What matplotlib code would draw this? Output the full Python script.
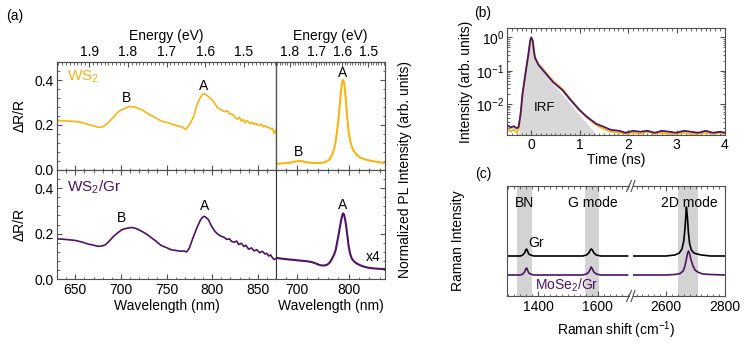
import matplotlib
matplotlib.use('Agg')
import matplotlib.pyplot as plt
from matplotlib.ticker import MultipleLocator, NullFormatter, LogLocator
import numpy as np

plt.rcParams['font.family'] = ['Liberation Sans', 'DejaVu Sans']
plt.rcParams['font.size'] = 10
plt.rcParams['mathtext.fontset'] = 'custom'
plt.rcParams['mathtext.rm'] = 'Liberation Sans'
plt.rcParams['mathtext.default'] = 'regular'
plt.rcParams['axes.edgecolor'] = '#505050'
plt.rcParams['xtick.direction'] = 'in'
plt.rcParams['ytick.direction'] = 'in'
plt.rcParams['xtick.color'] = '#505050'
plt.rcParams['ytick.color'] = '#505050'
plt.rcParams['xtick.labelcolor'] = 'black'
plt.rcParams['ytick.labelcolor'] = 'black'
plt.rcParams['xtick.major.size'] = 3.5
plt.rcParams['ytick.major.size'] = 3.5
plt.rcParams['xtick.minor.size'] = 1.8
plt.rcParams['ytick.minor.size'] = 1.8

ORANGE = '#F7B514'
PURPLE = '#4E1266'

# ---- (a) reflectance contrast, WS2 ----
wl_ws2 = [630, 640, 650, 658, 664, 670, 675, 679, 683, 687, 692, 697, 701, 706, 710, 715, 719, 724, 730,
          736, 741, 746, 752, 757, 763, 767, 771, 774, 777, 780, 783, 786, 789, 791, 793, 795, 797,
          800, 803, 806, 809, 812, 815, 817, 819, 822, 824, 826, 828, 830, 832, 834, 836, 838, 840,
          842, 844, 846, 848, 850, 852, 854, 856, 858, 860, 862, 864, 866, 868, 870]
dr_ws2 = [0.220, 0.218, 0.216, 0.210, 0.203, 0.196, 0.190, 0.190, 0.199, 0.214, 0.236, 0.258, 0.268,
          0.277, 0.282, 0.280, 0.274, 0.265, 0.250, 0.236, 0.225, 0.215, 0.210, 0.202, 0.195, 0.192,
          0.180, 0.195, 0.215, 0.240, 0.285, 0.315, 0.334, 0.340, 0.334, 0.330, 0.322, 0.312, 0.295,
          0.276, 0.270, 0.262, 0.259, 0.263, 0.250, 0.248, 0.240, 0.231, 0.226, 0.235, 0.218, 0.224,
          0.210, 0.220, 0.214, 0.206, 0.212, 0.203, 0.207, 0.201, 0.198, 0.204, 0.192, 0.197, 0.190,
          0.191, 0.182, 0.186, 0.162, 0.176]

# ---- (a) reflectance contrast, WS2/Gr ----
wl_gr = [630, 640, 650, 658, 664, 670, 675, 679, 683, 687, 692, 697, 701, 706, 712, 717, 722, 728, 734,
         739, 744, 750, 755, 760, 766, 769, 772, 775, 778, 781, 784, 787, 789, 791, 793, 796, 799,
         803, 806, 810, 813, 816, 819, 821, 824, 827, 829, 832, 835, 837, 840, 843, 846, 849, 852,
         855, 858, 860, 862, 864, 866, 868, 870]
dr_gr = [0.177, 0.174, 0.170, 0.162, 0.154, 0.149, 0.144, 0.145, 0.151, 0.166, 0.188, 0.205, 0.217,
         0.223, 0.227, 0.222, 0.212, 0.198, 0.180, 0.165, 0.148, 0.138, 0.129, 0.126, 0.122, 0.124,
         0.119, 0.136, 0.170, 0.202, 0.232, 0.258, 0.270, 0.276, 0.272, 0.261, 0.235, 0.210, 0.198,
         0.188, 0.184, 0.174, 0.177, 0.166, 0.162, 0.167, 0.152, 0.157, 0.143, 0.149, 0.131, 0.137,
         0.124, 0.129, 0.116, 0.122, 0.110, 0.113, 0.101, 0.106, 0.094, 0.086, 0.090]

# ---- (a) PL ----
wl_pl = [660, 670, 685, 695, 704, 712, 720, 727, 735, 745, 752, 759, 764, 768, 772, 775, 778, 781,
         784, 786, 788, 789, 791, 793, 795, 797, 800, 803, 806, 810, 815, 822, 830, 840, 850, 860, 870]
pl_ws2 = [0.070, 0.072, 0.080, 0.092, 0.100, 0.095, 0.085, 0.080, 0.078, 0.078, 0.082, 0.100, 0.125,
          0.170, 0.235, 0.320, 0.450, 0.600, 0.800, 0.920, 0.995, 1.000, 0.975, 0.880, 0.740, 0.600,
          0.420, 0.320, 0.260, 0.210, 0.170, 0.140, 0.120, 0.105, 0.095, 0.085, 0.078]
pl_gr = [0.233, 0.225, 0.215, 0.210, 0.204, 0.200, 0.195, 0.189, 0.175, 0.152, 0.148, 0.158, 0.185,
         0.225, 0.270, 0.320, 0.410, 0.500, 0.600, 0.660, 0.705, 0.722, 0.712, 0.660, 0.590, 0.500,
         0.360, 0.275, 0.225, 0.196, 0.172, 0.152, 0.135, 0.122, 0.116, 0.112, 0.110]

# ---- (b) time resolved PL ----
t_b = [-0.50, -0.42, -0.36, -0.30, -0.26, -0.22, -0.18, -0.12, -0.06, -0.02, 0.00, 0.03, 0.06, 0.08,
       0.15, 0.30, 0.45, 0.65, 0.80, 1.00, 1.15, 1.34, 1.50, 1.65, 1.82, 1.95, 2.10, 2.25, 2.40, 2.55,
       2.70, 2.85, 3.00, 3.15, 3.30, 3.45, 3.60, 3.75, 3.90, 4.00]
i_purple = [0.0024, 0.0020, 0.0022, 0.0019, 0.0021, 0.0050, 0.0200, 0.0800, 0.3000, 0.8000, 1.0000,
            0.8000, 0.3500, 0.2400, 0.1500, 0.0830, 0.0460, 0.0260, 0.0140, 0.0066, 0.0042, 0.0026,
            0.0021, 0.0017, 0.0016, 0.0014, 0.0016, 0.0015, 0.0016, 0.0014, 0.0016, 0.0015, 0.0014,
            0.0016, 0.0015, 0.0014, 0.0016, 0.0014, 0.0015, 0.0014]
i_orange = [0.0020, 0.0015, 0.0018, 0.0014, 0.0018, 0.0048, 0.0200, 0.0800, 0.3000, 0.8000, 1.0000,
            0.8200, 0.3600, 0.2500, 0.1600, 0.0900, 0.0500, 0.0280, 0.0150, 0.0068, 0.0040, 0.0024,
            0.0018, 0.0015, 0.0014, 0.0013, 0.0014, 0.0013, 0.0015, 0.0013, 0.0014, 0.0013, 0.0013,
            0.0014, 0.0013, 0.0013, 0.0014, 0.0013, 0.0014, 0.0013]
t_irf = [-0.26, -0.22, -0.18, -0.12, -0.06, -0.02, 0.00, 0.03, 0.06, 0.10, 0.20, 0.30, 0.45, 0.65,
         0.80, 1.00, 1.20, 1.34]
i_irf = [0.0014, 0.0050, 0.0200, 0.0800, 0.3000, 0.8000, 1.0000, 0.7000, 0.3000, 0.2000, 0.1200,
         0.0750, 0.0400, 0.0190, 0.0105, 0.0046, 0.0022, 0.0012]

# ---- (c) Raman ----
k_lo = [1295, 1340, 1348, 1354, 1358, 1361, 1364, 1368, 1374, 1385, 1550, 1562, 1570, 1575, 1578,
        1582, 1587, 1595, 1610, 1700]
gr_lo = [0.40, 0.40, 0.41, 0.43, 0.46, 0.47, 0.45, 0.42, 0.41, 0.40, 0.40, 0.41, 0.43, 0.46, 0.47,
         0.46, 0.43, 0.41, 0.40, 0.40]
mo_lo = [0.21, 0.21, 0.22, 0.24, 0.27, 0.28, 0.26, 0.23, 0.22, 0.21, 0.21, 0.22, 0.24, 0.27, 0.29,
         0.27, 0.24, 0.22, 0.21, 0.21]
k_hi = [2490, 2600, 2630, 2645, 2654, 2660, 2664, 2667, 2669, 2672, 2676, 2680, 2686, 2694, 2705,
        2720, 2750, 2800]
gr_hi = [0.40, 0.40, 0.41, 0.43, 0.47, 0.55, 0.67, 0.80, 0.89, 0.80, 0.63, 0.52, 0.46, 0.43, 0.42,
         0.41, 0.40, 0.40]
k_hi2 = [2490, 2600, 2630, 2648, 2658, 2664, 2669, 2673, 2676, 2679, 2684, 2690, 2698, 2710, 2725,
         2750, 2800]
mo_hi = [0.21, 0.21, 0.215, 0.225, 0.25, 0.30, 0.37, 0.43, 0.45, 0.43, 0.37, 0.31, 0.26, 0.235, 0.22,
         0.215, 0.21]
bands_lo = [(1330, 1380), (1557, 1605)]
band_hi = (2640, 2710)


def energy_axis(ax, elim, minor):
    top = ax.twiny()
    top.set_xlim(elim)
    top.xaxis.set_major_locator(MultipleLocator(0.1))
    top.xaxis.set_minor_locator(MultipleLocator(minor))
    top.tick_params(axis='x', which='both', direction='in', pad=2)
    top.set_xlabel('Energy (eV)', labelpad=4)
    return top


fig = plt.figure(figsize=(7.48, 3.46), dpi=100)

axRt = fig.add_axes([0.0762, 0.5087, 0.2928, 0.3121])
axRb = fig.add_axes([0.0762, 0.1936, 0.2928, 0.3151])
axPt = fig.add_axes([0.369, 0.5087, 0.1457, 0.3121])
axPb = fig.add_axes([0.369, 0.1936, 0.1457, 0.3151])

axRt.plot(wl_ws2, dr_ws2, color=ORANGE, lw=1.2)
axRb.plot(wl_gr, dr_gr, color=PURPLE, lw=1.2)
axPt.plot(wl_pl, pl_ws2, color=ORANGE, lw=1.5)
axPb.plot(wl_pl, pl_gr, color=PURPLE, lw=1.5)

for ax in (axRt, axRb):
    ax.set_xlim(630, 870)
    ax.set_ylim(0, 0.48)
    ax.xaxis.set_major_locator(MultipleLocator(50))
    ax.xaxis.set_minor_locator(MultipleLocator(10))
    ax.yaxis.set_major_locator(MultipleLocator(0.2))
    ax.yaxis.set_minor_locator(MultipleLocator(0.04))
    ax.set_ylabel('ΔR/R', labelpad=6)
    ax.spines['right'].set_color('#333333')
    ax.tick_params(axis='y', which='both', right=False, pad=2)

for ax in (axPt, axPb):
    ax.set_xlim(660, 870)
    ax.set_ylim(0, 1.2)
    ax.xaxis.set_major_locator(MultipleLocator(100))
    ax.xaxis.set_minor_locator(MultipleLocator(20))
    ax.yaxis.set_major_locator(MultipleLocator(0.5))
    ax.yaxis.set_minor_locator(MultipleLocator(0.1))
    ax.tick_params(axis='y', which='both', left=False, right=True, labelleft=False)
    ax.spines['left'].set_color('#333333')

for ax in (axRt, axPt):
    ax.tick_params(axis='x', which='both', top=False, bottom=True, labelbottom=False)
for ax in (axRb, axPb):
    ax.tick_params(axis='x', which='both', top=True, bottom=True, pad=3)
    ax.set_xlabel('Wavelength (nm)', labelpad=1)

energy_axis(axRt, (1.9826, 1.4174), 0.01)
energy_axis(axPt, (1.854, 1.435), 0.01)

axRt.text(0.045, 0.86, 'WS$_2$', color=ORANGE, transform=axRt.transAxes, fontsize=11, va='center')
axRb.text(0.045, 0.84, 'WS$_2$/Gr', color=PURPLE, transform=axRb.transAxes, fontsize=11, va='center')
axRt.text(706, 0.318, 'B', ha='center', va='center')
axRt.text(791, 0.375, 'A', ha='center', va='center')
axRb.text(701, 0.268, 'B', ha='center', va='center')
axRb.text(792, 0.322, 'A', ha='center', va='center')
axPt.text(704, 0.20, 'B', ha='center', va='center')
axPt.text(788, 1.08, 'A', ha='center', va='center')
axPb.text(789, 0.82, 'A', ha='center', va='center')
axPb.text(848, 0.24, 'x4', ha='center', va='center')

fig.text(405 / 748, 1 - 170 / 346, 'Normalized PL Intensity (arb. units)', rotation=90,
         ha='center', va='center')
fig.text(0.008, 0.955, '(a)', ha='left', va='center')

# ---- (b) ----
axB = fig.add_axes([0.6778, 0.6098, 0.2914, 0.3092])
axB.fill_between(t_irf, i_irf, 1e-4, color='#D8D8D8', lw=0)
axB.plot(t_b, i_orange, color=ORANGE, lw=1.3)
axB.plot(t_b, i_purple, color=PURPLE, lw=1.3)
axB.set_yscale('log')
axB.set_xlim(-0.5, 4)
axB.set_ylim(1.2e-3, 1.9)
axB.xaxis.set_major_locator(MultipleLocator(1))
axB.xaxis.set_minor_locator(MultipleLocator(0.1))
axB.yaxis.set_major_locator(LogLocator(base=10, numticks=10))
axB.yaxis.set_minor_locator(LogLocator(base=10, subs=np.arange(2, 10) * 1.0, numticks=10))
axB.yaxis.set_minor_formatter(NullFormatter())
axB.set_yticks([1e-2, 1e-1, 1e0])
axB.tick_params(which='both', top=True, right=True, pad=2)
axB.set_xlabel('Time (ns)', labelpad=1)
axB.set_ylabel('Intensity (arb. units)', labelpad=2)
axB.text(0.28, 7.5e-3, 'IRF', ha='center', va='center', fontsize=9.5)
fig.text(483 / 748, 1 - 13 / 346, '(b)', ha='center', va='center')

# ---- (c) ----
axC1 = fig.add_axes([0.6778, 0.1445, 0.1631, 0.318])
axC2 = fig.add_axes([0.8463, 0.1445, 0.123, 0.318])
for lo, hi in bands_lo:
    axC1.axvspan(lo, hi, color='#D3D3D3', lw=0)
axC2.axvspan(band_hi[0], band_hi[1], color='#D3D3D3', lw=0)
axC1.plot(k_lo, gr_lo, color='black', lw=1.2)
axC1.plot(k_lo, mo_lo, color=PURPLE, lw=1.2)
axC2.plot(k_hi, gr_hi, color='black', lw=1.2)
axC2.plot(k_hi2, mo_hi, color=PURPLE, lw=1.2)
axC1.set_xlim(1295, 1705)
axC2.set_xlim(2488, 2800)
for ax in (axC1, axC2):
    ax.set_ylim(0, 1.1)
    ax.set_yticks([])
    ax.xaxis.set_major_locator(MultipleLocator(200))
    ax.xaxis.set_minor_locator(MultipleLocator(20))
    ax.tick_params(axis='x', which='both', top=True, pad=3)
axC1.spines['right'].set_visible(False)
axC2.spines['left'].set_visible(False)

d = 0.02
for ax, x0 in ((axC1, 1.0), (axC2, 0.0)):
    for y0 in (0.0, 1.0):
        ax.plot([x0 - d, x0 + d], [y0 - 0.05, y0 + 0.05], transform=ax.transAxes,
                color='#505050', lw=0.8, clip_on=False)

fig.text(458 / 748, 1 - 241 / 346, 'Raman Intensity', rotation=90, ha='center', va='center')
fig.text((507 + 725) / 2 / 748, 1 - 330 / 346, 'Raman shift (cm$^{-1}$)', ha='center', va='center')
axC1.text(1353, 0.93, 'BN', ha='center', va='center')
axC1.text(1582, 0.93, 'G mode', ha='center', va='center')
axC2.text(2680, 0.93, '2D mode', ha='center', va='center')
axC1.text(1365, 0.53, 'Gr', ha='left', va='center')
axC1.text(1390, 0.11, 'MoSe$_2$/Gr', color=PURPLE, ha='left', va='center')
fig.text(483 / 748, 1 - 174 / 346, '(c)', ha='center', va='center')

fig.savefig('out.png', dpi=100)
